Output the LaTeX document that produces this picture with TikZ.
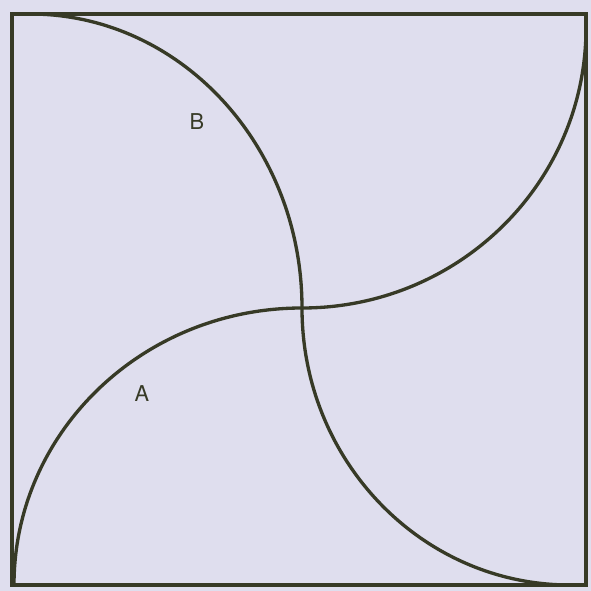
\documentclass[tikz,border=0pt]{standalone}
\usepackage{fontspec}
\setsansfont{TeX Gyre Heros}
\usetikzlibrary{positioning}
\definecolor{paperlilac}{RGB}{223,222,238}
\definecolor{inkolive}{RGB}{55,58,38}

\begin{document}
\begin{tikzpicture}[x=0.01692cm,y=0.01692cm,
    font=\sffamily\fontsize{10.5}{12}\selectfont,
    curve/.style={inkolive,line width=1.6pt},
    arclabel/.style={inkolive,inner sep=1pt}]
            \fill[paperlilac] (0,0) rectangle (591,591);
            \useasboundingbox (0,0) rectangle (591,591);
            % frame of the square
            \coordinate (bl) at (12,6);
            \coordinate (tr) at (586,577);
            \coordinate (mid) at (302,283);
            \draw[curve] (bl) rectangle (tr);
            % curve A (bottom left -> middle -> top right)
            \draw[curve] (14,6) arc[start angle=180,end angle=90,x radius=288,y radius=277]
                arc[start angle=270,end angle=360,x radius=284,y radius=280];
            % curve B (top left -> middle -> bottom right)
            \draw[curve] (30,577) arc[start angle=90,end angle=0,x radius=272,y radius=294]
                arc[start angle=180,end angle=270,x radius=268,y radius=277];
            % labels
            \node[arclabel] (labelB) at (197,469) {B};
            \node[arclabel] (labelA) at (142,197) {A};
        \end{tikzpicture}
\end{document}
